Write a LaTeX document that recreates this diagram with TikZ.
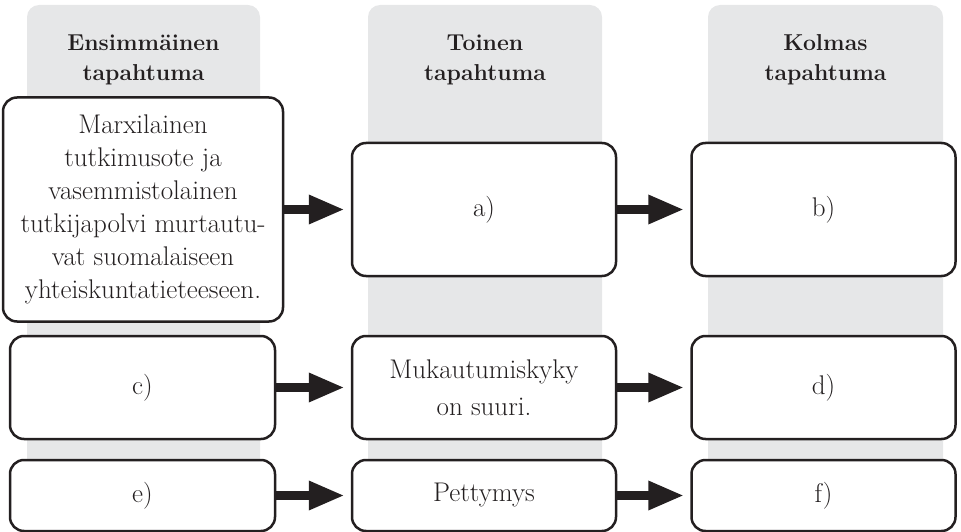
\documentclass[tikz,border=0pt]{standalone}
\usetikzlibrary{arrows.meta}
\definecolor{colgray}{HTML}{E6E7E8}
\definecolor{ink}{HTML}{231F20}
\begin{document}
\begin{tikzpicture}[x=1pt,y=-1pt]
  \tikzstyle{column}=[fill=colgray,rounded corners=12pt]
  \tikzstyle{head}=[align=center,inner sep=0pt,text=ink,font=\fontsize{23}{30}\selectfont\bfseries]
  \tikzstyle{event}=[draw=ink,line width=2.5pt,rounded corners=14pt,fill=white,text=ink,
                     align=center,inner sep=0pt,font=\fontsize{27}{33}\selectfont]
  \tikzstyle{link}=[draw=ink,line width=9pt,-{Triangle[length=36pt,width=27pt]},shorten >=6pt]
  \useasboundingbox (0,0) rectangle (961,532);
  \clip (0,0) rectangle (961,532);
  % grey columns
  \fill[column] (27,5) rectangle (260,560);
  \fill[column] (368,5) rectangle (602,560);
  \fill[column] (708,5) rectangle (943,560);
  % column heads
  \node[head] (h1) at (143.5,60) {Ensimmäinen\\tapahtuma};
  \node[head] (h2) at (485,60) {Toinen\\tapahtuma};
  \node[head] (h3) at (825.5,60) {Kolmas\\tapahtuma};
  % first row
  \node[event,minimum width=280pt,minimum height=224pt] (first) at (143,209.5)
       {Marxilainen\\tutkimusote ja\\vasemmistolainen\\tutkijapolvi murtautu-\\vat suomalaiseen\\yhteiskuntatieteeseen.};
  \node[event,minimum width=264pt,minimum height=133pt] (a) at (484,209.5) {a)};
  \node[event,minimum width=264pt,minimum height=133pt] (b) at (823.5,209.5) {b)};
  % second row
  \node[event,minimum width=265pt,minimum height=103pt] (c) at (142.5,387.5) {c)};
  \node[event,minimum width=264pt,minimum height=103pt,font=\fontsize{27}{37}\selectfont] (adapt) at (484,387.5)
       {Mukautumiskyky\\on suuri.};
  \node[event,minimum width=264pt,minimum height=103pt] (d) at (823.5,387.5) {d)};
  % third row
  \node[event,minimum width=265pt,minimum height=71pt] (e) at (142.5,495.5) {e)};
  \node[event,minimum width=264pt,minimum height=71pt] (letdown) at (484,495.5) {Pettymys};
  \node[event,minimum width=264pt,minimum height=71pt] (f) at (823.5,495.5) {f)};
  % arrows
  \draw[link] (first) -- (a);
  \draw[link] (a) -- (b);
  \draw[link] (c) -- (adapt);
  \draw[link] (adapt) -- (d);
  \draw[link] (e) -- (letdown);
  \draw[link] (letdown) -- (f);
\end{tikzpicture}
\end{document}
